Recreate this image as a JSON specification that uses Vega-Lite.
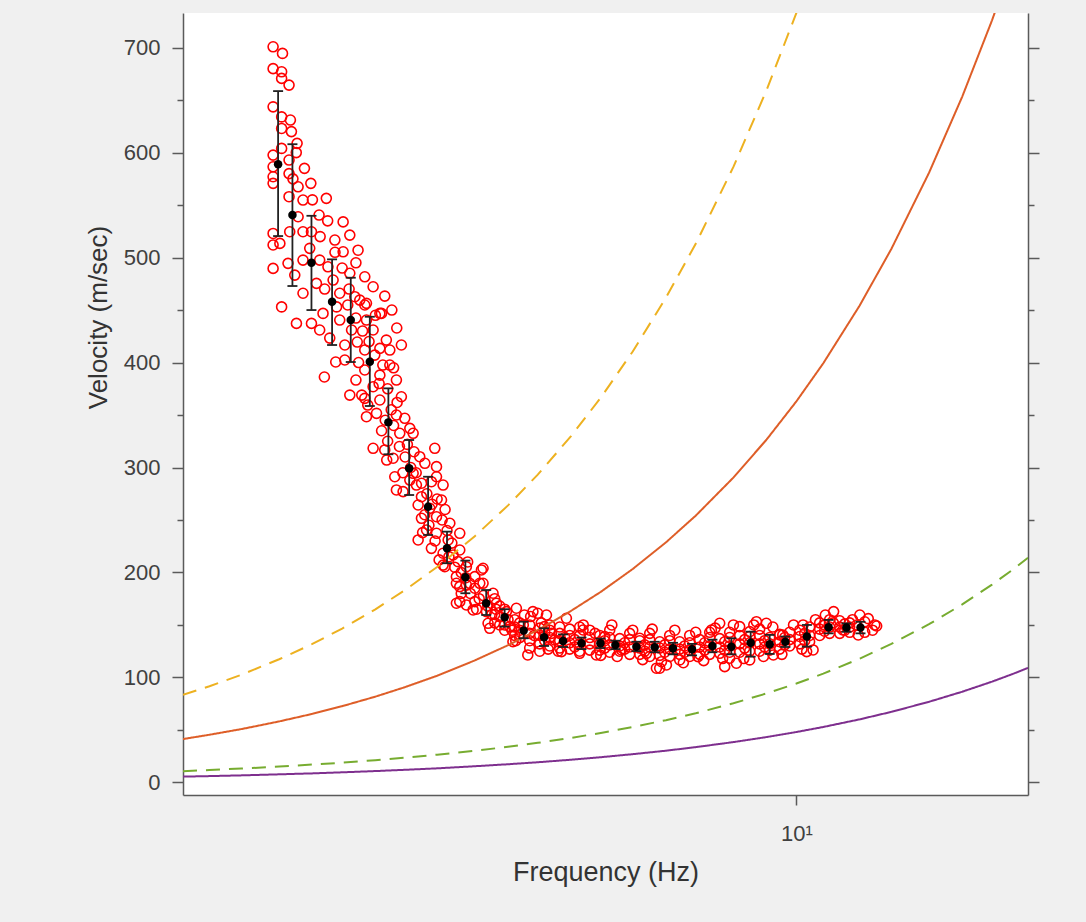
{
"$schema": "https://vega.github.io/schema/vega-lite/v6.json",
"width": 845, "height": 782,
"autosize": {"type": "none"},
"padding": {"left": 183, "top": 13, "right": 58, "bottom": 127},
"background": "#f0f0f0",
"config": {
  "view": {"fill": "white", "stroke": null},
  "font": "Liberation Sans",
  "axis": {"grid": false, "domainColor": "#5a5a5a", "tickColor": "#5a5a5a", "domainWidth": 1.5, "tickWidth": 1.5, "labelColor": "#404040", "titleColor": "#333333", "labelFont": "Liberation Sans", "titleFont": "Liberation Sans", "titleFontWeight": "normal", "labelFontSize": 22}
},
"datasets": {
"pts": [
{"f":1.566,"v":700.8},{"f":1.619,"v":694.5},{"f":1.566,"v":680},{"f":1.614,"v":677},{"f":1.614,"v":670.7},{"f":1.657,"v":664.3},{"f":1.566,"v":643.6},{"f":1.614,"v":634},{"f":1.665,"v":631},{"f":1.614,"v":623},{"f":1.671,"v":620},{"f":1.705,"v":608.8},{"f":1.614,"v":604},{"f":1.566,"v":597.6},{"f":1.657,"v":592.9},{"f":1.566,"v":586.5},{"f":1.657,"v":580},{"f":1.566,"v":577},{"f":1.566,"v":570.7},{"f":1.711,"v":567.4},{"f":1.79,"v":570.7},{"f":1.657,"v":558},{"f":1.741,"v":554.8},{"f":1.891,"v":556.4},{"f":1.843,"v":540.5},{"f":1.711,"v":538.9},{"f":1.661,"v":524.6},{"f":1.566,"v":523},{"f":1.604,"v":513.5},{"f":1.566,"v":512},{"f":1.741,"v":524.6},{"f":1.794,"v":524.6},{"f":2.007,"v":534},{"f":2.055,"v":521.4},{"f":1.949,"v":516.7},{"f":2.116,"v":507},{"f":1.783,"v":508.8},{"f":1.566,"v":489.7},{"f":1.651,"v":494.5},{"f":1.691,"v":483.3},{"f":1.741,"v":497.6},{"f":1.847,"v":497.6},{"f":2.007,"v":505.5},{"f":1.614,"v":453},{"f":1.741,"v":466},{"f":1.701,"v":437.3},{"f":1.794,"v":437.3},{"f":1.826,"v":475.4},{"f":1.902,"v":491.2},{"f":1.937,"v":478.6},{"f":1.983,"v":466},{"f":2.055,"v":485},{"f":2.167,"v":481.7},{"f":2.232,"v":472.2},{"f":2.092,"v":462.7},{"f":2.18,"v":456.4},{"f":2.299,"v":446.8},{"f":1.961,"v":453},{"f":1.869,"v":446.8},
{"f":1.878,"v":386.2},{"f":1.955,"v":400.5},{"f":2.019,"v":416.7},{"f":2.068,"v":431},{"f":2.11,"v":419.5},{"f":2.019,"v":402.4},{"f":1.983,"v":440.5},{"f":1.914,"v":423.3},{"f":1.847,"v":431},{"f":2.1,"v":383.3},{"f":2.055,"v":369},{"f":2.144,"v":369},{"f":2.19,"v":359.5},{"f":2.129,"v":459.5},{"f":2.04,"v":454.8},{"f":2.1,"v":442.4},{"f":2.326,"v":463.3},{"f":2.385,"v":450},{"f":2.427,"v":432.9},{"f":2.368,"v":411.9},{"f":2.467,"v":416.7},{"f":2.245,"v":407.1},{"f":2.31,"v":397.6},
{"f":2.167,"v":454.8},{"f":2.286,"v":446.8},{"f":2.18,"v":440.5},{"f":2.232,"v":431},{"f":2.339,"v":421.4},{"f":2.286,"v":413.5},{"f":2.167,"v":412},{"f":2.368,"v":397.6},{"f":2.424,"v":383.3},{"f":2.286,"v":388},{"f":2.167,"v":392.9},{"f":2.232,"v":377},{"f":2.467,"v":367.4},{"f":2.167,"v":365.9},{"f":2.286,"v":364.3},{"f":2.18,"v":348.4},{"f":2.259,"v":351.6},{"f":2.424,"v":350},{"f":2.497,"v":346.9},{"f":2.542,"v":337.3},{"f":2.572,"v":332.6},{"f":2.453,"v":332.6},{"f":2.232,"v":318.3},{"f":2.326,"v":316.7},{"f":2.777,"v":318.3},{"f":2.396,"v":308.8},{"f":2.342,"v":307.1},{"f":2.633,"v":310.3},{"f":2.681,"v":304},{"f":2.794,"v":300.8},{"f":2.41,"v":291.2},{"f":2.424,"v":278.6},{"f":2.482,"v":277},{"f":2.602,"v":283.3},{"f":2.744,"v":286.5},{"f":2.86,"v":283.3},{"f":2.794,"v":291.2},{"f":2.542,"v":288},{"f":2.572,"v":294.5},{"f":2.649,"v":272.2},{"f":2.844,"v":269},{"f":2.618,"v":264.3},{"f":2.728,"v":261.1},{"f":2.794,"v":253.1},{"f":2.649,"v":251.6},{"f":2.697,"v":240.5},{"f":2.618,"v":231},{"f":2.794,"v":237.3},{"f":2.929,"v":246.9},{"f":3.034,"v":237.3},{"f":2.912,"v":231},{"f":2.744,"v":223},{"f":2.86,"v":218.3},{"f":2.963,"v":216.7},{"f":3.034,"v":221.4},{"f":3.016,"v":210.3},{"f":2.877,"v":205.5},{"f":3.106,"v":205.5},{"f":3.295,"v":204},{"f":2.998,"v":196},{"f":3.2,"v":196},{"f":3.034,"v":186.5},{"f":3.143,"v":189.7},{"f":3.295,"v":189.7},{"f":2.998,"v":170.7},{"f":3.106,"v":169},{"f":3.2,"v":172.2},{"f":3.414,"v":180.2},{"f":3.455,"v":170.7},{"f":3.335,"v":162.7},{"f":3.579,"v":162.7},{"f":3.708,"v":165.9},{"f":3.932,"v":162.7},{"f":4.125,"v":159.5},
{"f":2.86,"v":207},{"f":2.998,"v":189.7},{"f":3.106,"v":188},{"f":3.257,"v":189.7},{"f":3.276,"v":202.4},{"f":3.034,"v":172.2},{"f":3.181,"v":164.3},{"f":3.354,"v":151.6},{"f":3.374,"v":146.8},{"f":3.663,"v":134.1},{"f":3.861,"v":121.4},{"f":3.999,"v":161.1},{"f":4.095,"v":148.4},{"f":4.427,"v":156.4},{"f":4.696,"v":145.2},{"f":4.35,"v":124.6},{"f":4.64,"v":123},{"f":5.071,"v":138.9},{"f":5.38,"v":126.2},{"f":5.74,"v":137.3},{"f":6.09,"v":108.8},{"f":5.88,"v":123},{"f":4.922,"v":121.4},{"f":4.248,"v":135.7},{"f":3.815,"v":159.5},{"f":3.621,"v":148.4},
{"f":6.162,"v":108.8},{"f":6.31,"v":111.9},{"f":7.621,"v":151.6},{"f":7.4,"v":145.2},{"f":8.18,"v":148.4},{"f":8.68,"v":153.1},{"f":8.99,"v":151.6},{"f":8.475,"v":143.6},{"f":7.895,"v":118.3},{"f":8.085,"v":113.5},{"f":8.475,"v":116.7},{"f":7.757,"v":110.3},{"f":7.057,"v":119.8},{"f":6.614,"v":116.7},{"f":9.53,"v":140.5},{"f":10.24,"v":150},{"f":11.08,"v":159.5},{"f":11.41,"v":162.7},{"f":11.05,"v":150},{"f":10.61,"v":126.2},{"f":10.37,"v":124.6},{"f":12.52,"v":159.5},{"f":13.2,"v":150},{"f":12.45,"v":140.5},{"f":11.79,"v":145.2},{"f":9.216,"v":121.4},{"f":9.425,"v":140.5},
{"f":3.434,"v":175},{"f":3.434,"v":160},{"f":3.434,"v":152},{"f":3.496,"v":168},{"f":3.496,"v":150},{"f":3.496,"v":158},{"f":3.557,"v":150},{"f":3.557,"v":145},{"f":3.557,"v":165},{"f":3.686,"v":155},{"f":3.686,"v":140},{"f":3.686,"v":148},{"f":3.752,"v":152},{"f":3.752,"v":138},{"f":3.752,"v":145},{"f":3.887,"v":150},{"f":3.887,"v":135},{"f":3.887,"v":142},{"f":3.887,"v":128},{"f":4.028,"v":147},{"f":4.028,"v":132},{"f":4.028,"v":140},{"f":4.028,"v":125},{"f":4.173,"v":145},{"f":4.173,"v":130},{"f":4.173,"v":138},{"f":4.173,"v":150},{"f":4.323,"v":142},{"f":4.323,"v":128},{"f":4.323,"v":135},{"f":4.323,"v":148},{"f":4.479,"v":140},{"f":4.479,"v":127},{"f":4.479,"v":133},{"f":4.479,"v":146},{"f":4.64,"v":140},{"f":4.64,"v":125},{"f":4.64,"v":132},{"f":4.64,"v":148},{"f":4.809,"v":138},{"f":4.809,"v":126},{"f":4.809,"v":132},{"f":4.809,"v":145},{"f":4.982,"v":140},{"f":4.982,"v":126},{"f":4.982,"v":132},{"f":5.161,"v":138},{"f":5.161,"v":124},{"f":5.161,"v":131},{"f":5.161,"v":145},{"f":5.348,"v":137},{"f":5.348,"v":125},{"f":5.348,"v":130},{"f":5.54,"v":136},{"f":5.54,"v":122},{"f":5.54,"v":129},{"f":5.54,"v":142},{"f":5.74,"v":135},{"f":5.74,"v":122},{"f":5.74,"v":128},{"f":5.947,"v":136},{"f":5.947,"v":120},{"f":5.947,"v":129},{"f":5.947,"v":142},{"f":6.162,"v":134},{"f":6.162,"v":121},{"f":6.162,"v":128},{"f":6.383,"v":135},{"f":6.383,"v":120},{"f":6.383,"v":127},{"f":6.383,"v":140},{"f":6.614,"v":134},{"f":6.614,"v":122},{"f":6.614,"v":127},{"f":6.852,"v":133},{"f":6.852,"v":120},{"f":6.852,"v":126},{"f":6.852,"v":140},{"f":7.099,"v":136},{"f":7.099,"v":122},{"f":7.099,"v":129},{"f":7.355,"v":138},{"f":7.355,"v":122},{"f":7.355,"v":130},{"f":7.355,"v":143},{"f":7.621,"v":137},{"f":7.621,"v":123},{"f":7.621,"v":129},{"f":7.895,"v":138},{"f":7.895,"v":124},{"f":7.895,"v":130},{"f":7.895,"v":143},{"f":8.18,"v":140},{"f":8.18,"v":124},{"f":8.18,"v":132},{"f":8.475,"v":139},{"f":8.475,"v":125},{"f":8.475,"v":133},{"f":8.78,"v":140},{"f":8.78,"v":125},{"f":8.78,"v":132},{"f":8.78,"v":146},{"f":9.097,"v":138},{"f":9.097,"v":126},{"f":9.097,"v":132},{"f":9.425,"v":141},{"f":9.425,"v":127},{"f":9.425,"v":134},{"f":9.765,"v":143},{"f":9.765,"v":130},{"f":9.765,"v":136},{"f":10.12,"v":145},{"f":10.12,"v":132},{"f":10.12,"v":139},{"f":10.48,"v":148},{"f":10.48,"v":134},{"f":10.48,"v":140},{"f":10.86,"v":152},{"f":10.86,"v":140},{"f":10.86,"v":146},{"f":11.25,"v":155},{"f":11.25,"v":142},{"f":11.25,"v":148},{"f":11.66,"v":154},{"f":11.66,"v":142},{"f":11.66,"v":148},{"f":12.08,"v":152},{"f":12.08,"v":143},{"f":12.08,"v":148},{"f":12.74,"v":153},{"f":12.74,"v":143},{"f":13.29,"v":149},
{"f":4.1,"v":143},{"f":4.1,"v":135},{"f":4.559,"v":136},{"f":4.559,"v":129},{"f":5.071,"v":135},{"f":5.071,"v":128},{"f":5.443,"v":133},{"f":5.443,"v":127},{"f":5.843,"v":131},{"f":5.843,"v":125},{"f":6.272,"v":131},{"f":6.272,"v":124},{"f":6.732,"v":130},{"f":6.732,"v":124},{"f":7.226,"v":133},{"f":7.226,"v":126},{"f":7.757,"v":134},{"f":7.757,"v":126},{"f":8.326,"v":136},{"f":8.326,"v":128},{"f":8.937,"v":135},{"f":8.937,"v":129},{"f":9.594,"v":138},{"f":9.594,"v":131},{"f":10.3,"v":142},{"f":10.3,"v":135},{"f":11.05,"v":150},{"f":11.05,"v":144},{"f":11.87,"v":151},{"f":11.87,"v":145},{"f":12.39,"v":150},
{"f":2.3,"v":335},{"f":2.35,"v":325},{"f":2.4,"v":340},{"f":2.45,"v":320},{"f":2.5,"v":310},{"f":2.38,"v":355},{"f":2.33,"v":345},{"f":2.55,"v":300},{"f":2.6,"v":295},{"f":2.48,"v":295},{"f":2.52,"v":322},{"f":2.43,"v":362},{"f":2.58,"v":315},
{"f":2.65,"v":285},{"f":2.7,"v":275},{"f":2.75,"v":265},{"f":2.68,"v":255},{"f":2.72,"v":245},{"f":2.8,"v":270},{"f":2.85,"v":250},{"f":2.9,"v":240},{"f":2.95,"v":228},{"f":2.88,"v":260},{"f":2.78,"v":230},{"f":2.82,"v":212},{"f":2.98,"v":205},{"f":2.66,"v":238},{"f":2.92,"v":215},
{"f":3.05,"v":200},{"f":3.1,"v":195},{"f":3.15,"v":180},{"f":3.2,"v":185},{"f":3.25,"v":175},{"f":3.3,"v":178},{"f":3.35,"v":168},{"f":3.05,"v":180},{"f":3.12,"v":210},{"f":3.4,"v":160},{"f":3.45,"v":165},{"f":3.22,"v":165},
{"f":3.6,"v":155},{"f":3.65,"v":145},{"f":3.7,"v":135},{"f":3.8,"v":150},{"f":3.95,"v":140},{"f":4.05,"v":152},{"f":4.2,"v":142},{"f":4.3,"v":125},{"f":4.4,"v":138},{"f":3.9,"v":158},{"f":4.15,"v":127},
{"f":4.7,"v":150},{"f":4.9,"v":142},{"f":5.0,"v":121},{"f":5.2,"v":150},{"f":5.3,"v":120},{"f":5.6,"v":145},{"f":5.8,"v":117},{"f":6.0,"v":146},{"f":6.2,"v":115},{"f":6.5,"v":145},{"f":6.7,"v":114},{"f":7.0,"v":143},{"f":7.2,"v":116},{"f":7.5,"v":147},{"f":7.7,"v":118},{"f":8.0,"v":150},{"f":8.3,"v":118},{"f":8.6,"v":150},{"f":8.9,"v":120},{"f":9.2,"v":148},{"f":9.5,"v":122},{"f":9.9,"v":150},{"f":10.2,"v":127},{"f":10.7,"v":155},{"f":11.4,"v":152},{"f":12.2,"v":155},{"f":12.9,"v":156},{"f":13.1,"v":145},
{"f":1.75,"v":585},{"f":1.7,"v":600},{"f":1.68,"v":575},{"f":1.8,"v":555},{"f":1.85,"v":520},{"f":1.9,"v":535},{"f":1.95,"v":505},{"f":2.0,"v":490},{"f":2.05,"v":470},{"f":2.1,"v":495},{"f":1.88,"v":470},{"f":2.15,"v":430},{"f":2.2,"v":420},{"f":2.25,"v":445},{"f":2.12,"v":400},{"f":2.28,"v":380},{"f":2.35,"v":375},{"f":2.4,"v":395}
],
"means": [
{"f":1.594,"v":588.8,"lo":520.5,"hi":658.6},{"f":1.677,"v":540.5,"lo":472.9,"hi":608},{"f":1.794,"v":495,"lo":450,"hi":539.8},{"f":1.93,"v":457.9,"lo":416.7,"hi":498.3},{"f":2.062,"v":440.5,"lo":400.5,"hi":480.8},{"f":2.206,"v":400.8,"lo":358.6,"hi":443.6},{"f":2.356,"v":343,"lo":312.6,"hi":375.4},{"f":2.536,"v":299.2,"lo":273.8,"hi":326.2},{"f":2.712,"v":262.7,"lo":235.7,"hi":291.2},{"f":2.9,"v":223,"lo":208.8,"hi":238.9},{"f":3.095,"v":195.4,"lo":180.2,"hi":211.3},{"f":3.332,"v":170.7,"lo":159.5,"hi":183.3},{"f":3.557,"v":157.3,"lo":148.4,"hi":165},{"f":3.805,"v":144.6,"lo":137.3,"hi":153.1},{"f":4.09,"v":138.3,"lo":130,"hi":146.8},{"f":4.375,"v":134.8,"lo":129,"hi":141},{"f":4.67,"v":132.6,"lo":127,"hi":138},{"f":4.994,"v":132.6,"lo":128,"hi":137},{"f":5.266,"v":131,"lo":127,"hi":135},{"f":5.673,"v":129.3,"lo":125,"hi":134},{"f":6.053,"v":128.8,"lo":124,"hi":134},{"f":6.458,"v":127.8,"lo":122,"hi":133},{"f":6.909,"v":126.9,"lo":121,"hi":132},{"f":7.427,"v":130,"lo":124,"hi":136},{"f":7.943,"v":129.3,"lo":122,"hi":137.3},{"f":8.505,"v":133.1,"lo":119.8,"hi":143.6},{"f":9.098,"v":131.6,"lo":122.4,"hi":140.5},{"f":9.618,"v":134.1,"lo":129,"hi":139},{"f":10.38,"v":138.9,"lo":129.3,"hi":150},{"f":11.21,"v":147.8,"lo":142,"hi":154.8},{"f":11.94,"v":147.5,"lo":143.5,"hi":151.5},{"f":12.55,"v":147.5,"lo":142,"hi":153}
],
"lines": [
{"s":"y","f":1.138,"v":83.4},{"s":"y","f":1.25,"v":91.6},{"s":"y","f":1.4,"v":102.6},{"s":"y","f":1.6,"v":117.3},{"s":"y","f":1.8,"v":131.9},{"s":"y","f":2,"v":146.6},{"s":"y","f":2.25,"v":164.9},{"s":"y","f":2.5,"v":183.3},{"s":"y","f":2.8,"v":205.2},{"s":"y","f":3.2,"v":234.6},{"s":"y","f":3.6,"v":263.9},{"s":"y","f":4,"v":293.2},{"s":"y","f":4.5,"v":329.9},{"s":"y","f":5,"v":366.5},{"s":"y","f":5.6,"v":410.5},{"s":"y","f":6.3,"v":461.8},{"s":"y","f":7,"v":513.1},{"s":"y","f":8,"v":586.4},{"s":"y","f":9,"v":659.7},{"s":"y","f":10,"v":733},{"s":"y","f":11,"v":806.3},
{"s":"o","f":1.138,"v":41.3},{"s":"o","f":1.25,"v":45.4},{"s":"o","f":1.4,"v":50.8},{"s":"o","f":1.6,"v":58.1},{"s":"o","f":1.8,"v":65.3},{"s":"o","f":2,"v":72.6},{"s":"o","f":2.25,"v":81.7},{"s":"o","f":2.5,"v":90.8},{"s":"o","f":2.8,"v":101.6},{"s":"o","f":3.2,"v":116.2},{"s":"o","f":3.6,"v":130.7},{"s":"o","f":4,"v":145.2},{"s":"o","f":4.5,"v":163.4},{"s":"o","f":5,"v":181.5},{"s":"o","f":5.6,"v":203.3},{"s":"o","f":6.3,"v":228.7},{"s":"o","f":7,"v":254.1},{"s":"o","f":8,"v":290.4},{"s":"o","f":9,"v":326.7},{"s":"o","f":10,"v":363},{"s":"o","f":11,"v":399.3},{"s":"o","f":12.5,"v":453.8},{"s":"o","f":14,"v":508.2},{"s":"o","f":16,"v":580.8},{"s":"o","f":18,"v":653.4},{"s":"o","f":20,"v":726},{"s":"o","f":21.5,"v":780.5},
{"s":"g","f":1.138,"v":10.7},{"s":"g","f":1.25,"v":11.8},{"s":"g","f":1.4,"v":13.2},{"s":"g","f":1.6,"v":15.1},{"s":"g","f":1.8,"v":17},{"s":"g","f":2,"v":18.8},{"s":"g","f":2.25,"v":21.2},{"s":"g","f":2.5,"v":23.6},{"s":"g","f":2.8,"v":26.4},{"s":"g","f":3.2,"v":30.1},{"s":"g","f":3.6,"v":33.9},{"s":"g","f":4,"v":37.7},{"s":"g","f":4.5,"v":42.4},{"s":"g","f":5,"v":47.1},{"s":"g","f":5.6,"v":52.8},{"s":"g","f":6.3,"v":59.3},{"s":"g","f":7,"v":65.9},{"s":"g","f":8,"v":75.4},{"s":"g","f":9,"v":84.8},{"s":"g","f":10,"v":94.2},{"s":"g","f":11,"v":103.6},{"s":"g","f":12.5,"v":117.8},{"s":"g","f":14,"v":131.9},{"s":"g","f":16,"v":150.7},{"s":"g","f":18,"v":169.6},{"s":"g","f":20,"v":188.4},{"s":"g","f":21.5,"v":202.5},{"s":"g","f":22.72,"v":214},
{"s":"p","f":1.138,"v":5.5},{"s":"p","f":1.25,"v":6},{"s":"p","f":1.4,"v":6.7},{"s":"p","f":1.6,"v":7.7},{"s":"p","f":1.8,"v":8.6},{"s":"p","f":2,"v":9.6},{"s":"p","f":2.25,"v":10.8},{"s":"p","f":2.5,"v":12},{"s":"p","f":2.8,"v":13.4},{"s":"p","f":3.2,"v":15.4},{"s":"p","f":3.6,"v":17.3},{"s":"p","f":4,"v":19.2},{"s":"p","f":4.5,"v":21.6},{"s":"p","f":5,"v":24},{"s":"p","f":5.6,"v":26.9},{"s":"p","f":6.3,"v":30.2},{"s":"p","f":7,"v":33.6},{"s":"p","f":8,"v":38.4},{"s":"p","f":9,"v":43.2},{"s":"p","f":10,"v":48},{"s":"p","f":11,"v":52.8},{"s":"p","f":12.5,"v":60},{"s":"p","f":14,"v":67.2},{"s":"p","f":16,"v":76.8},{"s":"p","f":18,"v":86.4},{"s":"p","f":20,"v":96},{"s":"p","f":21.5,"v":103.2},{"s":"p","f":22.72,"v":109.1}
]
},
"layer": [
 {"layer": [
  {"data": {"name": "pts"},
   "mark": {"type": "point", "shape": "circle", "filled": false, "color": "#ff0000", "size": 100, "strokeWidth": 1.6, "opacity": 1, "clip": true},
   "encoding": {
     "x": {"field": "f", "type": "quantitative", "scale": {"type": "log", "domain": [1.138, 22.72], "nice": false},
       "axis": {"title": "Frequency (Hz)", "values": [10], "labelExpr": "'10¹'", "tickSize": 10, "labelPadding": 18, "labelFontSize": 22, "titleFontSize": 27, "titleBaseline": "alphabetic", "titleY": 85}},
     "y": {"field": "v", "type": "quantitative", "scale": {"domain": [-12, 733], "nice": false, "zero": false},
       "axis": {"title": "Velocity (m/sec)", "values": [0,50,100,150,200,250,300,350,400,450,500,550,600,650,700],
         "labelExpr": "datum.value % 100 === 0 ? datum.label : ''",
         "tickSize": {"condition": {"test": "datum.value % 100 === 0", "value": 11}, "value": 6},
         "labelPadding": 12, "titleFontSize": 26, "titleX": -85, "titleY": 304, "titleAlign": "center", "titleBaseline": "middle", "titleAngle": -90}}
   }},
  {"data": {"name": "lines"},
   "mark": {"type": "line", "strokeWidth": 2, "clip": true},
   "encoding": {
     "x": {"field": "f", "type": "quantitative"},
     "y": {"field": "v", "type": "quantitative"},
     "color": {"field": "s", "type": "nominal", "scale": {"domain": ["y","o","g","p"], "range": ["#EDB120","#DE5E28","#77AC30","#7E2F8E"]}, "legend": null},
     "strokeDash": {"field": "s", "type": "nominal", "scale": {"domain": ["y","o","g","p"], "range": [[14,9],[1,0],[14,9],[1,0]]}, "legend": null}
   }},
  {"data": {"name": "means"},
   "mark": {"type": "rule", "color": "#222222", "strokeWidth": 1.8},
   "encoding": {"x": {"field": "f", "type": "quantitative"}, "y": {"field": "lo", "type": "quantitative"}, "y2": {"field": "hi"}}},
  {"data": {"name": "means"},
   "mark": {"type": "tick", "orient": "horizontal", "color": "#222222", "size": 10, "thickness": 1.8, "opacity": 1},
   "encoding": {"x": {"field": "f", "type": "quantitative"}, "y": {"field": "lo", "type": "quantitative"}}},
  {"data": {"name": "means"},
   "mark": {"type": "tick", "orient": "horizontal", "color": "#222222", "size": 10, "thickness": 1.8, "opacity": 1},
   "encoding": {"x": {"field": "f", "type": "quantitative"}, "y": {"field": "hi", "type": "quantitative"}}},
  {"data": {"name": "means"},
   "mark": {"type": "circle", "color": "black", "size": 72, "opacity": 1},
   "encoding": {"x": {"field": "f", "type": "quantitative"}, "y": {"field": "v", "type": "quantitative"}}}
 ]},
 {"data": {"name": "means"},
  "mark": {"type": "point", "opacity": 0},
  "encoding": {
    "y": {"field": "v", "type": "quantitative", "scale": {"domain": [-12, 733], "nice": false, "zero": false},
      "axis": {"orient": "right", "labels": false, "title": null, "values": [0,50,100,150,200,250,300,350,400,450,500,550,600,650,700],
        "tickSize": {"condition": {"test": "datum.value % 100 === 0", "value": 11}, "value": 6}}}
  }}
],
"resolve": {"scale": {"y": "independent"}}
}
